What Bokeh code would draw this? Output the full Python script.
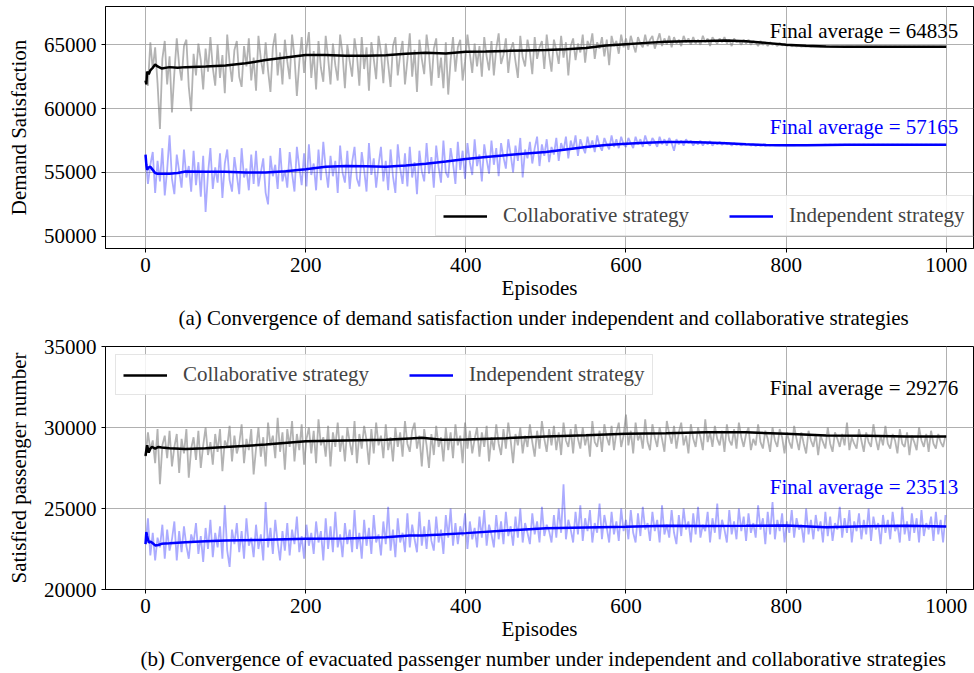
from bokeh.plotting import figure
from bokeh.layouts import column
from bokeh.models import Range1d, Legend, LegendItem, Title, Label
from bokeh.embed import file_html
from bokeh.resources import INLINE

# ---------------------------------------------------------------- data
EPISODES = list(range(0, 1000, 3))
X_TICKS = [0, 200, 400, 600, 800, 1000]

# (a) demand satisfaction, raw per-episode values (every 3rd episode)
DEMAND_COLLAB_RAW = [
    62100, 61800, 65200, 63100, 64800, 62000, 58400, 63900, 65300, 61900,
    64100, 59700, 62800, 65500, 63400, 62200, 64900, 65400, 61700, 59800,
    64300, 62600, 65100, 63800, 61500, 64700, 62900, 65600, 63200, 61800,
    65000, 62400, 64200, 61200, 65800, 63600, 62100, 64600, 65300, 62500,
    61700, 64900, 63300, 65500, 62200, 64000, 61400, 65700, 63900, 62700,
    65200, 63000, 61300, 64800, 65900, 62600, 64400, 61900, 65400, 63700,
    62300, 65800, 64100, 61000, 63600, 65600, 62800, 64700, 66000, 62400,
    64500, 61500, 65300, 63200, 62100, 65700, 64000, 61900, 65100, 63400,
    62200, 65800, 64300, 61600, 65000, 63700, 62500, 65500, 64200, 61800,
    65600, 63100, 64800, 61400, 65200, 63900, 62300, 65700, 64400, 62000,
    65100, 63500, 61700, 64900, 65600, 62600, 64200, 65300, 61900, 63800,
    65900, 62500, 64600, 61300, 65400, 63900, 62700, 65800, 64300, 61800,
    64700, 65500, 62400, 64000, 61600, 65200, 61100, 63800, 65600, 62900,
    64800, 65400, 62200, 63700, 65800, 64300, 62800, 65100, 63300, 64900,
    62500, 65600, 64100, 63000, 65300, 62600, 64700, 65900, 63500, 64200,
    65500, 62800, 64600, 65200, 63700, 62400, 65700, 64000, 63300, 65400,
    64400, 62700, 65600, 63900, 64800, 65300, 63100, 65800, 64200, 62900,
    65400, 64600, 63500, 65700, 64000, 65200, 62600, 64900, 65500, 63800,
    65100, 64400, 65800, 63600, 65300, 64800, 65900, 63900, 65200, 64700,
    65600, 64100, 65400, 63400, 65700, 64900, 65300, 64300, 65800, 64800,
    65500, 64600, 65700, 65000, 64400, 65600, 65100, 64800, 65800, 64900,
    65400, 65700, 64700, 65300, 65900, 64900, 65500, 65000, 65700, 64800,
    65600, 65100, 65400, 64900, 65700, 65200, 65500, 65000, 65600, 65100,
    65400, 65000, 65700, 65200, 65500, 64900, 65600, 65300, 65100, 65500,
    65200, 65600, 65100, 65400, 64900, 65500, 65200, 65300, 65000, 65400,
    65100, 65400, 65000, 65300, 65200, 64900, 65300, 65000, 65200, 64900,
    65200, 65000, 65100, 64900, 65150, 64950, 65050, 64900, 65000, 64880,
    64950, 64870, 64930, 64850, 64900, 64860, 64890, 64840, 64880, 64850,
    64870, 64840, 64860, 64850, 64870, 64840, 64860, 64845, 64855, 64840,
    64860, 64840, 64855, 64845, 64860, 64840, 64850, 64845, 64855, 64840,
    64850, 64840, 64855, 64835, 64850, 64840, 64850, 64835, 64850, 64840,
    64845, 64835, 64850, 64840, 64845, 64835, 64850, 64840, 64845, 64835,
    64845, 64840, 64850, 64835, 64845, 64840, 64845, 64835, 64845, 64840,
    64840, 64845, 64835, 64840,
]
DEMAND_INDEP_RAW = [
    56300, 54100, 55600, 56600, 53400, 55900, 54300, 56900, 53200, 55200,
    57900, 54500, 53300, 56400, 55100, 53800, 56800, 54600, 55500, 53500,
    56700, 54000, 55800, 53100, 56300, 51900, 54900, 56900, 53700, 55400,
    54200, 56500, 53000, 55700, 56800, 54400, 53500, 56200, 54800, 53300,
    56900, 54600, 55300, 53600, 56400, 54100, 56700, 53900, 55000, 56100,
    53400, 52500, 56300, 54700, 55600, 53700, 56900, 54300, 55200, 53800,
    56600, 54900, 53500, 57000, 55400, 54000, 56500, 53900, 57200, 54800,
    55700, 53600, 56800, 54400, 57400, 55300, 53800, 56300, 54700, 55900,
    53400, 57100, 55000, 54200, 56700, 53700, 55800, 57000, 54500, 53900,
    56600, 55200, 53500, 57300, 54800, 56100, 53800, 55600, 57000, 54300,
    55900, 53600, 56800, 54700, 53400, 57200, 55300, 54100, 56500, 53900,
    57000, 54600, 55800, 53300, 56700, 55100, 54300, 57300, 54900, 56200,
    53800, 57100, 55400, 54200, 57500, 55000, 54600, 56900, 55700, 54100,
    57400, 55200, 56700, 54500, 57300, 55800, 54800, 57600, 55500, 56400,
    54300, 57200, 56000, 54900, 57500, 55600, 56900, 54700, 57300, 56200,
    55300, 57600, 56400, 55000, 57100, 55900, 57700, 54600, 56800, 56100,
    57400, 55700, 56900, 57800, 55500, 57200, 56300, 57600, 55800, 57000,
    56400, 57700, 55900, 57300, 56700, 57800, 56100, 57500, 56800, 57900,
    56300, 57600, 57000, 56500, 57800, 56900, 57500, 56600, 57900, 57100,
    56700, 57700, 57200, 56800, 57900, 57000, 57600, 56900, 57800, 57200,
    57000, 57700, 57300, 56900, 57800, 57200, 57600, 57000, 57900, 57300,
    57100, 57700, 57400, 57000, 57800, 57200, 57600, 57100, 57700, 57300,
    56700, 57600, 57200, 57500, 57100, 57600, 57300, 57500, 57100, 57400,
    57200, 57500, 57100, 57400, 57200, 57450, 57100, 57350, 57200, 57400,
    57150, 57350, 57200, 57300, 57100, 57300, 57150, 57250, 57100, 57250,
    57150, 57250, 57100, 57200, 57080, 57180, 57100, 57160, 57080, 57140,
    57100, 57140, 57110, 57130, 57110, 57140, 57120, 57140, 57120, 57150,
    57130, 57150, 57135, 57155, 57140, 57160, 57145, 57160, 57150, 57165,
    57155, 57165, 57160, 57170, 57160, 57170, 57165, 57170, 57160, 57170,
    57165, 57170, 57160, 57172, 57165, 57170, 57162, 57170, 57165, 57172,
    57165, 57170, 57162, 57170, 57166, 57172, 57164, 57170, 57165, 57170,
    57164, 57171, 57165, 57170, 57163, 57170, 57166, 57171, 57165, 57170,
    57165, 57170, 57164, 57171, 57165, 57170, 57166, 57170, 57165, 57171,
    57165, 57170, 57166, 57170,
]

# (a) moving averages
DEMAND_SMOOTH_X = [0, 1, 2, 4, 6, 9, 12, 15, 20, 30, 40, 50, 75, 100, 125, 150,
                   175, 200, 225, 250, 275, 300, 325, 350, 375, 400, 425, 450,
                   475, 500, 525, 550, 575, 600, 625, 650, 675, 700, 725, 750,
                   775, 800, 825, 850, 875, 900, 950, 1000]
DEMAND_COLLAB_AVG = [62200, 61900, 62900, 62700, 63000, 63200, 63450, 63300,
                     63150, 63250, 63200, 63250, 63300, 63380, 63550, 63800,
                     64000, 64200, 64200, 64150, 64150, 64180, 64300, 64380,
                     64320, 64450, 64480, 64520, 64560, 64600, 64650, 64750,
                     64950, 65050, 65150, 65230, 65280, 65300, 65330, 65280,
                     65150, 65000, 64920, 64870, 64850, 64840, 64840, 64840]
DEMAND_INDEP_AVG = [56400, 55600, 55200, 55400, 55450, 55200, 54950, 54900,
                    54900, 54900, 54950, 55080, 55050, 55050, 55000, 55000,
                    55100, 55250, 55450, 55500, 55480, 55450, 55550, 55680,
                    55850, 56050, 56200, 56350, 56480, 56600, 56800, 57000,
                    57150, 57250, 57330, 57380, 57380, 57350, 57280, 57200,
                    57150, 57120, 57130, 57150, 57160, 57170, 57170, 57170]
DEMAND_Y_TICKS = [50000, 55000, 60000, 65000]
DEMAND_FINAL = {"collab": 64835, "indep": 57165}

# (b) satisfied passenger number, raw per-episode values (every 3rd episode)
PASSENGER_COLLAB_RAW = [
    28200, 29700, 28600, 29200, 27800, 29900, 26500, 28900, 29500, 28100,
    29800, 27600, 28800, 29600, 27200, 29300, 28400, 29900, 26900, 28700,
    29400, 28000, 29800, 27500, 28900, 30000, 28300, 29100, 27700, 29600,
    28500, 29900, 27300, 29200, 28800, 30100, 27900, 29500, 28400, 29000,
    30200, 27800, 29300, 28600, 29900, 27100, 28700, 30000, 28200, 29400,
    27600, 30300, 28900, 29500, 28100, 30600, 28500, 29700, 27400, 29900,
    28800, 30400, 27900, 29600, 28600, 30200, 27700, 29300, 30000, 28400,
    29800, 27800, 30500, 28900, 29400, 28200, 30100, 27600, 29700, 28800,
    30300, 28500, 29500, 27900, 30000, 29100, 28300, 30400, 27800, 29600,
    28700, 30100, 29200, 27700, 29900, 28400, 30300, 28900, 29500, 28100,
    30200, 28600, 29400, 27900, 30000, 28800, 29700, 28200, 30400, 29000,
    28500, 29800, 30300, 28700, 29500, 27600, 29900, 28900, 27500, 29600,
    28300, 30100, 28800, 29400, 27900, 30000, 28600, 29700, 28100, 30200,
    28900, 29500, 27800, 30300, 28700, 29800, 28400, 29300, 30000, 28200,
    29700, 28800, 30100, 27900, 29400, 28600, 30200, 29000, 28300, 29900,
    28700, 30300, 29200, 27800, 29600, 28900, 30000, 28400, 29500, 28800,
    30200, 29100, 28200, 29800, 28700, 30400, 29300, 28500, 29900, 28900,
    30100, 28600, 29700, 28300, 30300, 29200, 28800, 29900, 28400, 30200,
    29300, 28700, 30000, 28900, 29600, 28200, 30400, 29100, 28800, 29800,
    28500, 30200, 29400, 28900, 30100, 28600, 29700, 30300, 28800, 29500,
    30800, 28900, 29800, 28400, 30300, 29200, 29600, 28700, 30500, 29100,
    28600, 30200, 29400, 28800, 30000, 29300, 28500, 30400, 29600, 29000,
    30100, 28700, 29700, 30300, 28900, 29500, 28400, 30200, 29300, 28800,
    30000, 29400, 28600, 30500, 29100, 29700, 28800, 30100, 29300, 28900,
    29800, 28500, 30200, 29200, 28900, 29900, 28700, 30300, 29400, 28800,
    29600, 30000, 28600, 29300, 28900, 30200, 29100, 28700, 29800, 29300,
    28500, 30000, 29200, 28800, 29900, 29400, 28400, 29700, 29100, 28700,
    30100, 29300, 28600, 29700, 29000, 28400, 29800, 29200, 28800, 29600,
    28300, 29500, 29100, 28700, 30000, 29000, 28500, 29700, 29300, 28800,
    29600, 28900, 30300, 28600, 29400, 29000, 28700, 29900, 29200, 28500,
    29700, 29100, 28800, 30200, 29300, 28600, 29500, 28900, 30100, 29000,
    28700, 29600, 29200, 28400, 29900, 29000, 28800, 29700, 28300, 29500,
    29100, 28600, 30000, 29200, 28800, 29600, 28500, 29800, 29000, 28700,
    29600, 29100, 28800, 29500,
]
PASSENGER_INDEP_RAW = [
    22800, 24400, 22100, 23500, 21800, 23200, 22600, 24000, 21900, 23700,
    22400, 23100, 24200, 21800, 23600, 22300, 23900, 22700, 21900, 23400,
    22900, 24100, 22200, 23300, 21700, 23800, 22500, 24300, 22000, 23500,
    22600, 23900, 21900, 25200, 22400, 21400, 23700, 22800, 24100, 22300,
    23600, 21900, 24400, 22700, 23200, 22000, 24000, 22500, 23400, 21800,
    25400, 22600, 23800, 22200, 24300, 22900, 21800, 23600, 22400, 24100,
    22100, 23700, 22800, 24500, 22300, 23300, 21900, 24000, 22700, 23500,
    22200, 24200, 22900, 23600, 21800, 24400, 22500, 23900, 22300, 24800,
    22600, 23400, 22000, 24100, 22800, 23700, 22300, 24900, 22500, 23500,
    21900, 24300, 22700, 23800, 22200, 24600, 22900, 23400, 22100, 24200,
    22800, 25100, 22400, 23700, 22000, 24400, 22900, 23500, 22300, 24700,
    22600, 24000, 23100, 22300, 24800, 22700, 23900, 22500, 24300, 23000,
    22400, 24500, 22900, 23700, 22200, 24600, 23200, 25000, 22700, 24100,
    22800, 23900, 23300, 24700, 22500, 24200, 23100, 23800, 22600, 24500,
    23200, 24900, 22700, 24000, 23400, 22600, 24600, 23100, 24200, 22800,
    24800, 23300, 23900, 22700, 24500, 23200, 25000, 22900, 24100, 23500,
    22800, 24700, 23400, 24200, 22900, 25100, 23300, 24000, 23600, 22900,
    24600, 23200, 25000, 23500, 26500, 23100, 24300, 23700, 22900, 24800,
    23400, 25200, 23000, 24400, 23600, 24900, 22900, 24100, 23500, 25300,
    23100, 24600, 23800, 22900, 24800, 23400, 24200, 23000, 25000, 23600,
    24300, 23100, 24900, 23500, 22900, 24700, 23300, 25100, 23700, 24100,
    23000, 24800, 23600, 24300, 22900, 25200, 23400, 24000, 23200, 24900,
    23500, 22800, 24600, 23300, 25000, 23700, 24200, 22900, 24700, 23400,
    25100, 23200, 24000, 23600, 24800, 22900, 24400, 23500, 25300, 23100,
    24300, 23700, 22900, 24900, 23400, 24200, 23100, 25000, 23600, 24500,
    23000, 24700, 23500, 24100, 23200, 25200, 23700, 24400, 22800, 24800,
    23400, 25400, 23100, 24300, 23600, 24700, 22900, 24200, 23500, 24900,
    23200, 24400, 23700, 24000, 22900, 25000, 23400, 24300, 23100, 24600,
    23600, 24200, 22900, 24800, 23300, 24500, 23000, 24100, 23700, 25100,
    23200, 24400, 23500, 24900, 22900, 24200, 23600, 24700, 23100, 24300,
    23400, 25000, 23000, 24500, 23700, 24100, 22800, 24600, 23500, 24300,
    23100, 24800, 23600, 24000, 22900, 25100, 23400, 24200, 23000, 24700,
    23500, 24400, 22900, 24900, 23300, 24100, 23700, 24500, 23000, 24800,
    23400, 24300, 22900, 24600,
]

# (b) moving averages
PASSENGER_SMOOTH_X = [0, 1, 2, 4, 6, 8, 12, 16, 20, 30, 50, 75, 100, 150, 200,
                      250, 300, 330, 345, 370, 400, 450, 500, 550, 600, 650,
                      700, 750, 800, 850, 900, 950, 1000]
PASSENGER_COLLAB_AVG = [28250, 28600, 28900, 28450, 28700, 28800, 28700, 28800,
                        28760, 28720, 28680, 28720, 28790, 28950, 29150, 29200,
                        29240, 29320, 29360, 29250, 29260, 29340, 29440, 29520,
                        29610, 29650, 29700, 29700, 29610, 29510, 29490, 29440,
                        29440]
PASSENGER_INDEP_AVG = [22800, 23550, 23300, 22900, 22950, 22900, 22720, 22750,
                       22820, 22850, 22920, 22980, 23020, 23070, 23130, 23150,
                       23230, 23330, 23340, 23400, 23480, 23640, 23780, 23830,
                       23870, 23930, 23920, 23930, 23950, 23850, 23900, 23930,
                       23890]
PASSENGER_Y_TICKS = [20000, 25000, 30000, 35000]
PASSENGER_FINAL = {"collab": 29276, "indep": 23513}

# ---------------------------------------------------------------- style
FONT = "Liberation Serif"
FS = "21px"
GRID = "#b0b0b0"


def panel(height, top, bottom, y_range, y_ticks, y_label, caption, cap_offset):
    p = figure(width=974, height=height, output_backend="svg",
               toolbar_location=None, x_range=Range1d(-50, 1034),
               y_range=Range1d(*y_range), min_border_left=105,
               min_border_right=1, min_border_top=top,
               min_border_bottom=bottom)
    p.outline_line_color = "black"
    p.outline_line_width = 1
    p.background_fill_color = "white"
    for ax in (p.xaxis[0], p.yaxis[0]):
        ax.major_label_text_font = FONT
        ax.major_label_text_font_size = FS
        ax.major_label_text_color = "black"
        ax.axis_label_text_font = FONT
        ax.axis_label_text_font_size = FS
        ax.axis_label_text_font_style = "normal"
        ax.axis_label_text_color = "black"
        ax.axis_line_color = "black"
        ax.major_tick_line_color = "black"
        ax.major_tick_out = 4
        ax.major_tick_in = 0
        ax.minor_tick_line_color = None
    p.xaxis.ticker = X_TICKS
    p.yaxis.ticker = y_ticks
    p.xaxis.axis_label = "Episodes"
    p.xaxis.axis_label_standoff = 1
    p.yaxis.axis_label = y_label
    p.yaxis.axis_label_standoff = 10
    p.xgrid.ticker = X_TICKS
    p.ygrid.ticker = y_ticks
    p.grid.grid_line_color = GRID
    p.grid.grid_line_width = 1
    p.add_layout(Title(text=caption, align="left", text_font=FONT,
                       text_font_size=FS, text_font_style="normal",
                       text_color="black", offset=cap_offset, standoff=3), "below")
    return p


def draw(p, raw_c, raw_i, sx, avg_c, avg_i):
    # raw episode values as a light band, moving averages drawn on top
    p.line(EPISODES, raw_c, line_color="gray", line_alpha=0.6, line_width=1.8)
    p.line(EPISODES, raw_i, line_color="blue", line_alpha=0.33, line_width=1.8)
    rc = p.line(sx, avg_c, line_color="black", line_width=2.5)
    ri = p.line(sx, avg_i, line_color="blue", line_width=2.5)
    return rc, ri


def legend(rc, ri, loc):
    return Legend(items=[LegendItem(label="Collaborative strategy", renderers=[rc]),
                         LegendItem(label="Independent strategy", renderers=[ri])],
                  orientation="horizontal", location=loc,
                  label_text_font=FONT, label_text_font_size=FS,
                  glyph_width=44, glyph_height=22, label_standoff=16,
                  spacing=40, padding=7, margin=0,
                  border_line_color="#cccccc", border_line_width=1,
                  background_fill_alpha=0.85)


def final_label(p, x, y, value, color):
    p.add_layout(Label(x=x, y=y, text=f"Final average = {value}",
                       text_align="right", text_baseline="middle",
                       text_font=FONT, text_font_size=FS, text_color=color))


# (a)
p1 = panel(334, 6, 86, (49040, 68000), DEMAND_Y_TICKS, "Demand Satisfaction",
           "(a) Convergence of demand satisfaction under independent and collaborative strategies", 73)
rc1, ri1 = draw(p1, DEMAND_COLLAB_RAW, DEMAND_INDEP_RAW, DEMAND_SMOOTH_X,
                DEMAND_COLLAB_AVG, DEMAND_INDEP_AVG)
p1.add_layout(legend(rc1, ri1, (330, 12)))
final_label(p1, 1015, 66100, DEMAND_FINAL["collab"], "black")
final_label(p1, 1015, 58530, DEMAND_FINAL["indep"], "blue")

# (b)
p2 = panel(339, 12, 84, (20000, 35000), PASSENGER_Y_TICKS, "Satisfied passenger number",
           "(b) Convergence of evacuated passenger number under independent and collaborative strategies", 35)
rc2, ri2 = draw(p2, PASSENGER_COLLAB_RAW, PASSENGER_INDEP_RAW, PASSENGER_SMOOTH_X,
                PASSENGER_COLLAB_AVG, PASSENGER_INDEP_AVG)
p2.add_layout(legend(rc2, ri2, (10, 194)))
final_label(p2, 1015, 32410, PASSENGER_FINAL["collab"], "black")
final_label(p2, 1015, 26300, PASSENGER_FINAL["indep"], "blue")

layout = column(p1, p2, spacing=0)
open("out.html", "w").write(file_html(layout, INLINE))
